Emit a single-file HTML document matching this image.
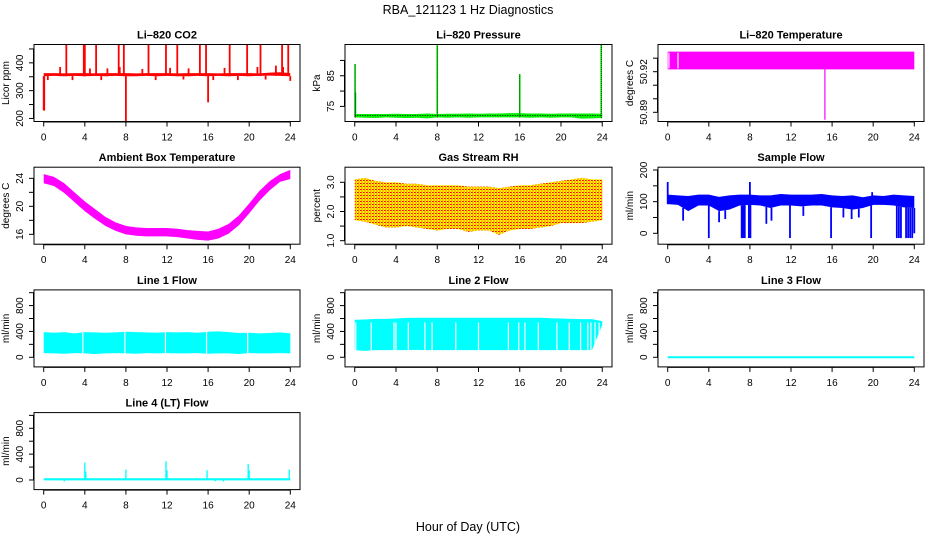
<!DOCTYPE html>
<html><head><meta charset="utf-8"><title>RBA_121123 1 Hz Diagnostics</title>
<style>
html,body{margin:0;padding:0;background:#fff;}
svg{display:block;font-family:"Liberation Sans",sans-serif;}
.t{font-size:11px;font-weight:bold;}
.tk{font-size:10px;}
</style></head>
<body>
<svg id="chart" width="936" height="540" viewBox="0 0 936 540" xmlns="http://www.w3.org/2000/svg">
<defs>
<pattern id="rhpat" width="3" height="3" patternUnits="userSpaceOnUse">
<rect width="3" height="3" fill="#ffff00"/>
<rect x="0" y="0" width="1" height="1" fill="#ff0000"/>
<rect x="1.5" y="1.5" width="1" height="1" fill="#ff0000"/>
<rect x="1" y="0" width="1" height="1" fill="#ff4000"/>
</pattern>
</defs>
<text x="468" y="14" text-anchor="middle" font-size="12.5">RBA_121123  1 Hz Diagnostics</text>
<text x="468" y="531" text-anchor="middle" font-size="12.5">Hour of Day (UTC)</text>
</svg>
<script>
// shared x data
const hours = [0,1,2,3,4,5,6,7,8,9,10,11,12,13,14,15,16,17,18,19,20,21,22,23,24];
const xTicks = [0,4,8,12,16,20,24];

// Li-820 CO2
const co2Lo = [352,353,352,353,352,353,352,353,352,352,353,352,353,352,352,353,352,353,352,353,352,353,354,353,352];
const co2Hi = [363,363,362,363,363,362,363,363,363,362,363,363,363,362,363,363,363,362,363,363,363,362,365,366,363];
const co2SpikeHours = [2.2,3.9,4.0,5.1,7.3,7.8,10.2,11.9,13.0,15.2,15.8,18.1,19.8,21.1,23.2,23.8,0.0,0.05,8.0,16.0,1.6,4.5,6.2,7.4,9.6,12.3,14.1,17.6,20.8,22.6,23.3,0.4,2.8,5.6,10.9,13.6,16.5,18.9,21.6,24.0];
const co2SpikeVals = [466,466,466,466,466,466,466,466,466,466,466,466,466,466,466,466,230,228,189,258,385,380,380,385,378,382,380,382,385,390,385,338,338,338,338,340,338,338,340,335];

// Li-820 Pressure
const presLo = [71.4,71.3,71.2,71.4,71.3,71.2,71.3,71.1,71.4,71.3,71.4,71.3,71.4,71.4,71.4,71.4,71.4,71.3,71.4,71.3,71.4,71.4,71.0,71.1,71.2];
const presHi = [72.5,72.5,72.5,72.5,72.6,72.5,72.5,72.7,72.5,72.6,72.6,72.7,72.6,72.7,72.7,72.8,72.8,72.7,72.7,72.6,72.7,72.7,72.7,72.7,72.6];
const presSpikeHours = [0.03,0.07,8.0,16.0,23.9];
const presSpikeVals = [88.8,79.5,95.0,85.5,95.0];

// Li-820 Temperature
const tempLo = [50.9217,50.9217,50.9217,50.9217,50.9217,50.9217,50.9217,50.9217,50.9217,50.9217,50.9217,50.9217,50.9217,50.9217,50.9217,50.9217,50.9217,50.9217,50.9217,50.9217,50.9217,50.9217,50.9217,50.9217,50.9217];
const tempHi = [50.9348,50.9348,50.9348,50.9348,50.9348,50.9348,50.9348,50.9348,50.9348,50.9348,50.9348,50.9348,50.9348,50.9348,50.9348,50.9348,50.9348,50.9348,50.9348,50.9348,50.9348,50.9348,50.9348,50.9348,50.9348];
const tempGapHours = [0.12,1.0];
const tempSpikeHours = [15.3];
const tempSpikeVals = [50.8845];

// Ambient Box Temperature
const ambHi = [24.6,24.2,23.3,22.0,20.7,19.6,18.5,17.7,17.2,17.0,16.9,16.9,16.9,16.8,16.6,16.5,16.4,16.8,17.5,18.7,20.4,22.2,23.6,24.6,25.2];
const ambLo = [23.3,22.9,21.9,20.6,19.3,18.2,17.2,16.5,16.0,15.8,15.7,15.7,15.7,15.6,15.4,15.2,15.1,15.4,16.1,17.3,19.0,20.8,22.3,23.5,23.9];

// Gas Stream RH
const rhHi = [3.1,3.15,3.05,3.0,3.0,2.95,2.95,2.9,2.9,2.9,2.9,2.85,2.85,2.85,2.8,2.85,2.9,2.9,2.95,3.0,3.05,3.1,3.15,3.1,3.1];
const rhLo = [1.7,1.65,1.55,1.45,1.45,1.5,1.45,1.4,1.35,1.4,1.4,1.3,1.35,1.35,1.2,1.35,1.4,1.4,1.45,1.5,1.6,1.6,1.6,1.65,1.7];

// Sample Flow
const sfHi = [122,120,118,122,122,115,120,122,122,120,120,124,122,122,122,124,120,118,120,114,120,118,122,120,118];
const sfLo = [92,90,70,88,88,70,75,88,90,88,80,88,88,85,88,88,82,80,75,80,90,90,88,82,80];
const sfSpikeHours = [4.0,7.2,7.3,7.4,7.5,7.9,8.05,11.9,15.9,19.8,22.3,22.5,22.7,23.2,23.4,23.6,23.8,24.0,0.0,8.0,19.9,1.5,5.0,5.6,9.6,10.1,13.2,17.1,17.9,18.6];
const sfSpikeVals = [-15,-15,-15,-15,-15,-15,-15,-15,-15,-15,-15,-15,-15,-15,-15,-15,-15,0,162,162,130,40,35,45,30,40,55,50,45,50];

// Line 1 Flow
const l1Hi = [390,380,390,370,390,385,380,385,395,390,385,380,390,385,390,380,395,400,390,375,380,370,375,385,370];
const l1Lo = [65,60,55,65,60,50,60,65,60,55,65,60,65,60,60,65,55,60,60,50,65,60,60,65,60];
const l1GapHours = [3.8,7.9,11.85,15.85,19.85];

// Line 2 Flow
const l2Hi = [580,585,595,595,600,610,612,612,612,612,612,612,612,612,612,612,612,612,612,605,600,595,590,590,560];
const l2Lo = [110,100,110,110,110,110,115,110,110,110,110,110,110,110,110,110,110,110,110,110,110,110,110,110,500];
const l2GapHours = [0.1,1.6,3.8,4.0,5.2,6.8,7.5,9.8,12.0,14.9,15.9,16.5,17.8,19.6,20.8,21.9,22.6,22.9,23.3,23.7];

// Line 3 Flow
const l3Vals = [0,0,0,0,0,0,0,0,0,0,0,0,0,0,0,0,0,0,0,0,0,0,0,0,0];

// Line 4 (LT) Flow
const l4Lo = [-6,-6,-6,-6,-6,-6,-6,-6,-6,-6,-6,-6,-6,-6,-6,-6,-6,-6,-6,-6,-6,-6,-6,-6,-6];
const l4Hi = [26,26,26,26,26,26,26,26,26,26,26,26,26,26,26,26,26,26,26,26,26,26,26,26,26];
const l4SpikeHours = [4.0,4.1,8.0,11.9,12.0,15.9,19.9,20.0,23.9,2.0,16.7,17.5];
const l4SpikeVals = [270,130,160,290,150,150,250,150,160,-25,-20,-25];

const svg = document.getElementById('chart');
const NS = 'http://www.w3.org/2000/svg';
const colX = [[34,300],[345,612],[658,924]];
const rowTop = [44.5,167.2,289.9,412.6];
const boxH = 77;

function mk(tag, attrs, parent){
  const e = document.createElementNS(NS, tag);
  for (const k in attrs) e.setAttribute(k, attrs[k]);
  (parent||svg).appendChild(e);
  return e;
}

function panel(cfg){
  const [L,R] = colX[cfg.col];
  const T = rowTop[cfg.row], B = T + boxH;
  const g = mk('g', {});
  
  
  const x0 = L + (R-L)*0.0365, x1 = R - (R-L)*0.0365;
  const xs = h => x0 + (x1-x0)*h/24;
  const ys = v => B - (v - cfg.ymin)/(cfg.ymax - cfg.ymin)*boxH;
  const plot = mk('g', {}, g);
  
  
  cfg.draw(plot, xs, ys, T, B);
  const box = mk('rect', {x:L, y:T, width:R-L, height:boxH, fill:'none', stroke:'#000', 'stroke-width':1}, g);
  
  
  const title = mk('text', {x:(L+R)/2, y:T-6, 'text-anchor':'middle', class:'t'}, g);
  title.textContent = cfg.title;
  
  
  const xa = mk('g', {}, g);
  
  
  mk('line', {x1:xs(0), x2:xs(24), y1:B+0.5, y2:B+0.5, stroke:'#000'}, xa);
  xTicks.forEach(t => {
    mk('line', {x1:xs(t), x2:xs(t), y1:B, y2:B+5, stroke:'#000'}, xa);
    const tx = mk('text', {x:xs(t), y:B+19, 'text-anchor':'middle', class:'tk'}, xa);
    tx.textContent = t;
  });
  const ya = mk('g', {}, g);
  
  
  const yt = cfg.yticks;
  mk('line', {x1:L-0.5, x2:L-0.5, y1:ys(yt[0]), y2:ys(yt[yt.length-1]), stroke:'#000'}, ya);
  yt.forEach(t => {
    mk('line', {x1:L-5, x2:L, y1:ys(t), y2:ys(t), stroke:'#000'}, ya);
  });
  cfg.ylabels.forEach(t => {
    const yy = ys(t);
    const tx = mk('text', {x:0, y:0, 'text-anchor':'middle', class:'tk', transform:`translate(${L-11},${yy}) rotate(-90)`}, ya);
    tx.textContent = cfg.fmt ? cfg.fmt(t) : t;
  });
  const yl = mk('text', {x:0, y:0, 'text-anchor':'middle', class:'tk', transform:`translate(${L-25},${(T+B)/2}) rotate(-90)`}, g);
  yl.textContent = cfg.ylab;
  
  
}

function band(p, xs, ys, lo, hi, fill){
  let pts = hours.map((h,i)=>xs(h)+','+ys(hi[i]));
  for (let i=hours.length-1;i>=0;i--) pts.push(xs(hours[i])+','+ys(lo[i]));
  const e = mk('polygon', {points:pts.join(' '), fill:fill, stroke:'none'}, p);
  
  
  return e;
}
function spikes(p, xs, ys, hs, vs, base, color, w){
  hs.forEach((h,i)=>{
    const e = mk('line', {x1:xs(h), x2:xs(h), y1:ys(base(h)), y2:ys(vs[i]), stroke:color, 'stroke-width':w||1.3}, p);
    
    
  });
}
function interp(arr){ return h => { const i=Math.min(23,Math.floor(h)); const f=h-i; return arr[i]*(1-f)+arr[i+1]*f; }; }
function gaps(p, xs, T, B, hs, y1, y2){
  hs.forEach(h=>{
    const e = mk('line', {x1:xs(h), x2:xs(h), y1:y1, y2:y2, stroke:'#fff', 'stroke-width':1.2}, p);
    
    
  });
}
const flowTicks = [0,200,400,600,800,1000];

panel({name:'co2-panel', title:'Li\u2013820 CO2', ylab:'Licor ppm', col:0,row:0, ymin:189, ymax:466,
  yticks:[200,250,300,350,400,450], ylabels:[200,300,400],
  draw:(p,xs,ys)=>{ const mid = interp(co2Lo); band(p,xs,ys,co2Lo,co2Hi,'#ff0000'); spikes(p,xs,ys,co2SpikeHours,co2SpikeVals,mid,'#ff0000',1.8); }});

panel({name:'pressure-panel', title:'Li\u2013820 Pressure', ylab:'kPa', col:1,row:0, ymin:70.07, ymax:95.2,
  yticks:[75,80,85,90], ylabels:[75,85],
  draw:(p,xs,ys)=>{ band(p,xs,ys,presLo,presHi,'#00ee00');
    const mid = interp(presLo);
    spikes(p,xs,ys,presSpikeHours,presSpikeVals,mid,'#00ee00',1.6);
    presSpikeHours.forEach((h,i)=>{ mk('line',{x1:xs(h),x2:xs(h),y1:ys(mid(h)),y2:ys(presSpikeVals[i]),stroke:'#000','stroke-width':0.8,'stroke-dasharray':'1,1'},p); });
    const d = mk('line',{x1:xs(0),x2:xs(24),y1:ys(72),y2:ys(72),stroke:'#000','stroke-width':0.8,'stroke-dasharray':'1,1.5'},p);
    
    
  }});

panel({name:'licor-temp-panel', title:'Li\u2013820 Temperature', ylab:'degrees C', col:2,row:0, ymin:50.8832, ymax:50.9401,
  yticks:[50.89,50.90,50.91,50.92,50.93], ylabels:[50.89,50.92], fmt:v=>v.toFixed(2),
  draw:(p,xs,ys,T,B)=>{ band(p,xs,ys,tempLo,tempHi,'#ff00ff');
    gaps(p,xs,T,B,tempGapHours,ys(tempHi[0])+1,ys(tempLo[0])-1);
    spikes(p,xs,ys,tempSpikeHours,tempSpikeVals,()=>50.9217,'#ff00ff',1.2); }});

panel({name:'ambient-temp-panel', title:'Ambient Box Temperature', ylab:'degrees C', col:0,row:1, ymin:14.59, ymax:25.59,
  yticks:[16,18,20,22,24], ylabels:[16,20,24],
  draw:(p,xs,ys)=>{ band(p,xs,ys,ambLo,ambHi,'#ff00ff'); }});

panel({name:'rh-panel', title:'Gas Stream RH', ylab:'percent', col:1,row:1, ymin:0.88, ymax:3.517,
  yticks:[1.0,1.5,2.0,2.5,3.0], ylabels:[1.0,2.0,3.0], fmt:v=>v.toFixed(1),
  draw:(p,xs,ys)=>{ band(p,xs,ys,rhLo,rhHi,'url(#rhpat)'); }});

panel({name:'sample-flow-panel', title:'Sample Flow', ylab:'ml/min', col:2,row:1, ymin:-34.4, ymax:208.8,
  yticks:[0,50,100,150,200], ylabels:[0,100,200],
  draw:(p,xs,ys)=>{ band(p,xs,ys,sfLo,sfHi,'#0000ff'); spikes(p,xs,ys,sfSpikeHours,sfSpikeVals,interp(sfLo),'#0000ff',1.8); }});

panel({name:'line1-flow-panel', title:'Line 1 Flow', ylab:'ml/min', col:0,row:2, ymin:-149, ymax:1043,
  yticks:flowTicks, ylabels:[0,400,800],
  draw:(p,xs,ys,T,B)=>{ band(p,xs,ys,l1Lo,l1Hi,'#00ffff'); gaps(p,xs,T,B,l1GapHours,ys(400),ys(50)); }});

panel({name:'line2-flow-panel', title:'Line 2 Flow', ylab:'ml/min', col:1,row:2, ymin:-149, ymax:1043,
  yticks:flowTicks, ylabels:[0,400,800],
  draw:(p,xs,ys,T,B)=>{ band(p,xs,ys,l2Lo,l2Hi,'#00ffff'); gaps(p,xs,T,B,l2GapHours,ys(540),ys(100)); }});

panel({name:'line3-flow-panel', title:'Line 3 Flow', ylab:'ml/min', col:2,row:2, ymin:-149, ymax:1043,
  yticks:flowTicks, ylabels:[0,400,800],
  draw:(p,xs,ys)=>{ const e = mk('polyline',{points:hours.map((h,i)=>xs(h)+','+ys(l3Vals[i])).join(' '),fill:'none',stroke:'#00ffff','stroke-width':2},p);
    
     }});

panel({name:'line4-flow-panel', title:'Line 4 (LT) Flow', ylab:'ml/min', col:0,row:3, ymin:-149, ymax:1043,
  yticks:flowTicks, ylabels:[0,400,800],
  draw:(p,xs,ys)=>{ band(p,xs,ys,l4Lo,l4Hi,'#00ffff'); spikes(p,xs,ys,l4SpikeHours,l4SpikeVals,()=>10,'#00ffff',1.3); }});
</script>
</body></html>
